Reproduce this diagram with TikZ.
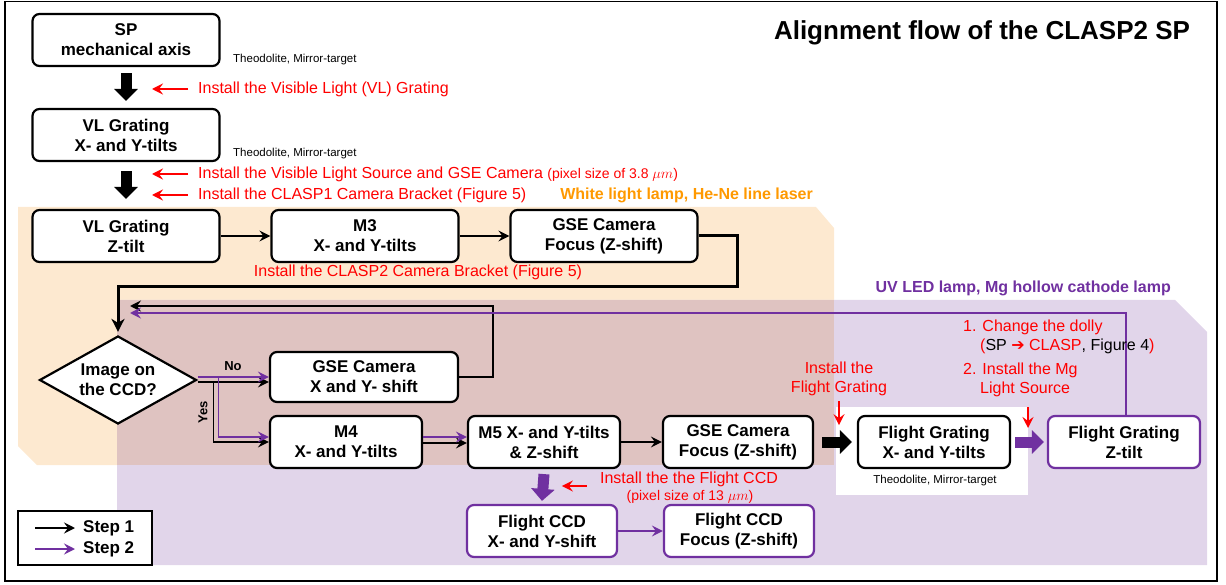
\documentclass[tikz,border=0pt]{standalone}
\usepackage{fontspec}
\setmainfont{Liberation Sans}
\newfontfamily\dejavu{DejaVu Sans}
\usetikzlibrary{arrows.meta,shapes.geometric}
\definecolor{stwo}{RGB}{112,48,160}
\definecolor{noteorange}{RGB}{255,153,0}
\definecolor{bgorange}{RGB}{253,233,208}
\definecolor{bgpurple}{RGB}{225,213,234}
\definecolor{bgmix}{RGB}{223,195,193}
\newcommand{\bxfont}{\fontsize{17}{20}\selectfont\bfseries}
\newcommand{\notefont}{\fontsize{16}{19}\selectfont}
\newcommand{\instrfont}{\fontsize{11.5}{13}\selectfont}

\begin{document}
\begin{tikzpicture}[x=1pt,y=-1pt,
  stepbox/.style={draw,line width=2.2pt,rounded corners=7pt,fill=white,align=center,font=\bxfont,minimum height=52pt,inner xsep=2pt},
  wide/.style={stepbox,minimum width=187pt},
  narrow/.style={stepbox,minimum width=152pt},
  conn/.style={line width=1.6pt,-{Stealth[length=11pt,width=11pt,inset=4pt]}},
  stepone/.style={conn,black},
  steptwo/.style={conn,stwo},
  block/.style={line width=11pt,-{Triangle[length=12pt,width=23pt]}},
  redarr/.style={red,line width=1.8pt,-{Stealth[length=11pt,width=11pt,inset=4pt]}},
  note/.style={red,font=\notefont,inner sep=0pt},
  instr/.style={font=\instrfont,inner sep=0pt}]
\useasboundingbox (0,0) rectangle (1226,585);
\draw[line width=1.5pt] (5,1.5) rectangle (1217,581);

% light source areas
\fill[bgorange] (18,207) -- (816,207) -- (834,228) -- (834,465) -- (37,465) -- (18,446) -- cycle;
\fill[bgpurple] (117,300) -- (1175,300) -- (1207,332) -- (1207,565) -- (117,565) -- cycle;
\fill[bgmix] (117,300) rectangle (834,465);
\fill[white] (836,407) rectangle (1028,495);

\node[font=\fontsize{26}{30}\selectfont\bfseries] (title) at (982,33) {Alignment flow of the CLASP2 SP};

% step boxes
\node[wide] (sp) at (126,40) {SP\\mechanical axis};
\node[wide] (vlxy) at (126,135) {VL Grating\\X- and  Y-tilts};
\foreach \nm/\x/\txt in {vlz/126/{VL Grating\\Z-tilt}, mthree/365/{M3\\X- and Y-tilts}, gsefocus/604/{GSE Camera\\Focus (Z-shift)}}
  \node[wide] (\nm) at (\x,236) {\txt};
\node[diamond,draw,line width=2.2pt,fill=white,aspect=1.78,minimum width=157pt,minimum height=88pt,inner sep=0pt,align=center,font=\bxfont] (ccdq) at (118,380) {Image on\\the CCD?};
\node[stepbox,minimum width=188pt,minimum height=50pt] (gsexy) at (364,377) {GSE Camera\\X and Y- shift};
\node[narrow] (mfour) at (346,442) {M4\\X- and Y-tilts};
\node[narrow] (mfive) at (544,442) {M5 X- and Y-tilts\\\& Z-shift};
\node[narrow,minimum width=150pt] (gsefocustwo) at (738,442) {GSE Camera\\Focus (Z-shift)};
\node[narrow] (fgxy) at (934,442) {Flight Grating\\X- and Y-tilts};
\node[narrow,draw=stwo] (fgz) at (1124,442) {Flight Grating\\Z-tilt};
\node[narrow,draw=stwo,minimum width=150pt] (ccdxy) at (542,531) {Flight CCD\\X- and Y-shift};
\node[narrow,draw=stwo,minimum width=150pt] (ccdfocus) at (739,531) {Flight CCD\\Focus (Z-shift)};

\node[instr,anchor=west] (theoone) at (233,60) {Theodolite, Mirror-target};
\node[instr,anchor=west] (theotwo) at (233,154) {Theodolite, Mirror-target};
\node[instr] (theothree) at (935,481) {Theodolite, Mirror-target};

% block arrows
\draw[block] ([yshift=-6pt]sp.south) -- ([yshift=7pt]vlxy.north);
\draw[block] ([yshift=-9pt]vlxy.south) -- ([yshift=10pt]vlz.north);
\draw[block] ([xshift=8pt]gsefocustwo.east) -- ([xshift=-5pt]fgxy.west);
\draw[block,stwo] ([xshift=4pt]fgxy.east) -- ([xshift=-3pt]fgz.west);
\draw[block,stwo] ([yshift=-5pt]mfive.south) -- ([yshift=3pt]ccdxy.north);

% connectors
\draw[stepone] (vlz.east) -- (mthree.west);
\draw[stepone] (mthree.east) -- (gsefocus.west);
\coordinate (loopcorner) at (737,287);
\draw[line width=3pt,shorten >=3pt,-{Stealth[length=13pt,width=13pt,inset=4pt]}] (gsefocus.east) -| (loopcorner) -| (ccdq.north);
\draw[stepone] ([yshift=-2pt]ccdq.east) -- ([yshift=-5pt]gsexy.west);
\draw[steptwo] ([yshift=3pt]ccdq.east) -- (gsexy.west);
\draw[stepone] ([xshift=16pt,yshift=-2pt]ccdq.east) |- (mfour.west);
\draw[steptwo] ([xshift=21pt,yshift=3pt]ccdq.east) |- ([yshift=5pt]mfour.west);
\node[font=\fontsize{13}{15}\selectfont\bfseries] (nolbl) at (233,366) {No};
\node[font=\fontsize{13}{15}\selectfont\bfseries,rotate=90] (yeslbl) at (203,412) {Yes};
\draw[stepone] ([yshift=-1pt]mfour.east) -- ([yshift=-1pt]mfive.west);
\draw[steptwo] ([yshift=5pt]mfour.east) -- ([yshift=5pt]mfive.west);
\draw[stepone] (mfive.east) -- (gsefocustwo.west);
\draw[steptwo] (ccdxy.east) -- (ccdfocus.west);
\coordinate (backone) at (493,306);
\coordinate (backoneend) at (130,306);
\draw[stepone] (gsexy.east) -| (backone) -- (backoneend);
\coordinate (backtwoend) at (130,313);
\draw[steptwo] ([xshift=2pt]fgz.north) |- (backtwoend);

% installation notes
\node[note,anchor=west] (vlnote) at (198,89) {Install the Visible Light (VL) Grating};
\node[note,anchor=west] (srcnote) at (198,174) {Install the Visible Light Source and GSE Camera {\fontsize{14}{16}\selectfont(pixel size of 3.8 $\mu m$)}};
\node[note,anchor=west] (bracketnote) at (198,195) {Install the CLASP1 Camera Bracket (Figure 5)};
\foreach \nt in {vlnote,srcnote,bracketnote}
  \draw[redarr] ([xshift=-10pt]\nt.west) -- ([xshift=-46pt]\nt.west);
\node[note] (bracketnotetwo) at (418,272) {Install the CLASP2 Camera Bracket (Figure 5)};
\node[font=\fontsize{16}{19}\selectfont\bfseries,text=noteorange,anchor=east,inner sep=0pt] (lampone) at (813,195) {White light lamp, He-Ne line laser};
\node[font=\fontsize{16}{19}\selectfont\bfseries,text=stwo,anchor=east,inner sep=0pt] (lamptwo) at (1171,288) {UV LED lamp, Mg hollow cathode lamp};
\node[note,align=center] (fgnote) at (839,379) {Install the\\Flight Grating};
\draw[redarr] ([yshift=-5pt]fgnote.south) -- ++(0,24);
\node[note,align=left,anchor=north west] (dollynote) at (963,320) {1. Change the dolly\\\hspace*{17pt}(\textcolor{black}{SP} {\dejavu ➔} CLASP\textcolor{black}{, Figure 4})};
\node[note,align=left,anchor=north west] (mgnote) at (963,363) {2. Install the Mg\\\hspace*{17pt}Light Source};
\coordinate (mgarrow) at (1028,407);
\draw[redarr] (mgarrow) -- ++(0,21);
\node[note] (ccdnote) at (689,479) {Install the the Flight CCD};
\node[note,font=\fontsize{14}{16}\selectfont] (ccdnotetwo) at (690,497) {(pixel size of 13 $\mu m$)};
\draw[redarr] ([xshift=-13pt,yshift=-7pt]ccdnote.west) -- ++(-25,0);

% legend
\node[draw,line width=2pt,fill=white,minimum width=134pt,minimum height=54pt] (legend) at (85,538) {};
\node[font=\bxfont,anchor=west,inner sep=0pt] (lgone) at (83,528) {Step 1};
\node[font=\bxfont,anchor=west,inner sep=0pt] (lgtwo) at (83,549) {Step 2};
\draw[stepone] ([xshift=-48pt]lgone.west) -- ([xshift=-8pt]lgone.west);
\draw[steptwo] ([xshift=-48pt]lgtwo.west) -- ([xshift=-8pt]lgtwo.west);
\end{tikzpicture}
\end{document}
